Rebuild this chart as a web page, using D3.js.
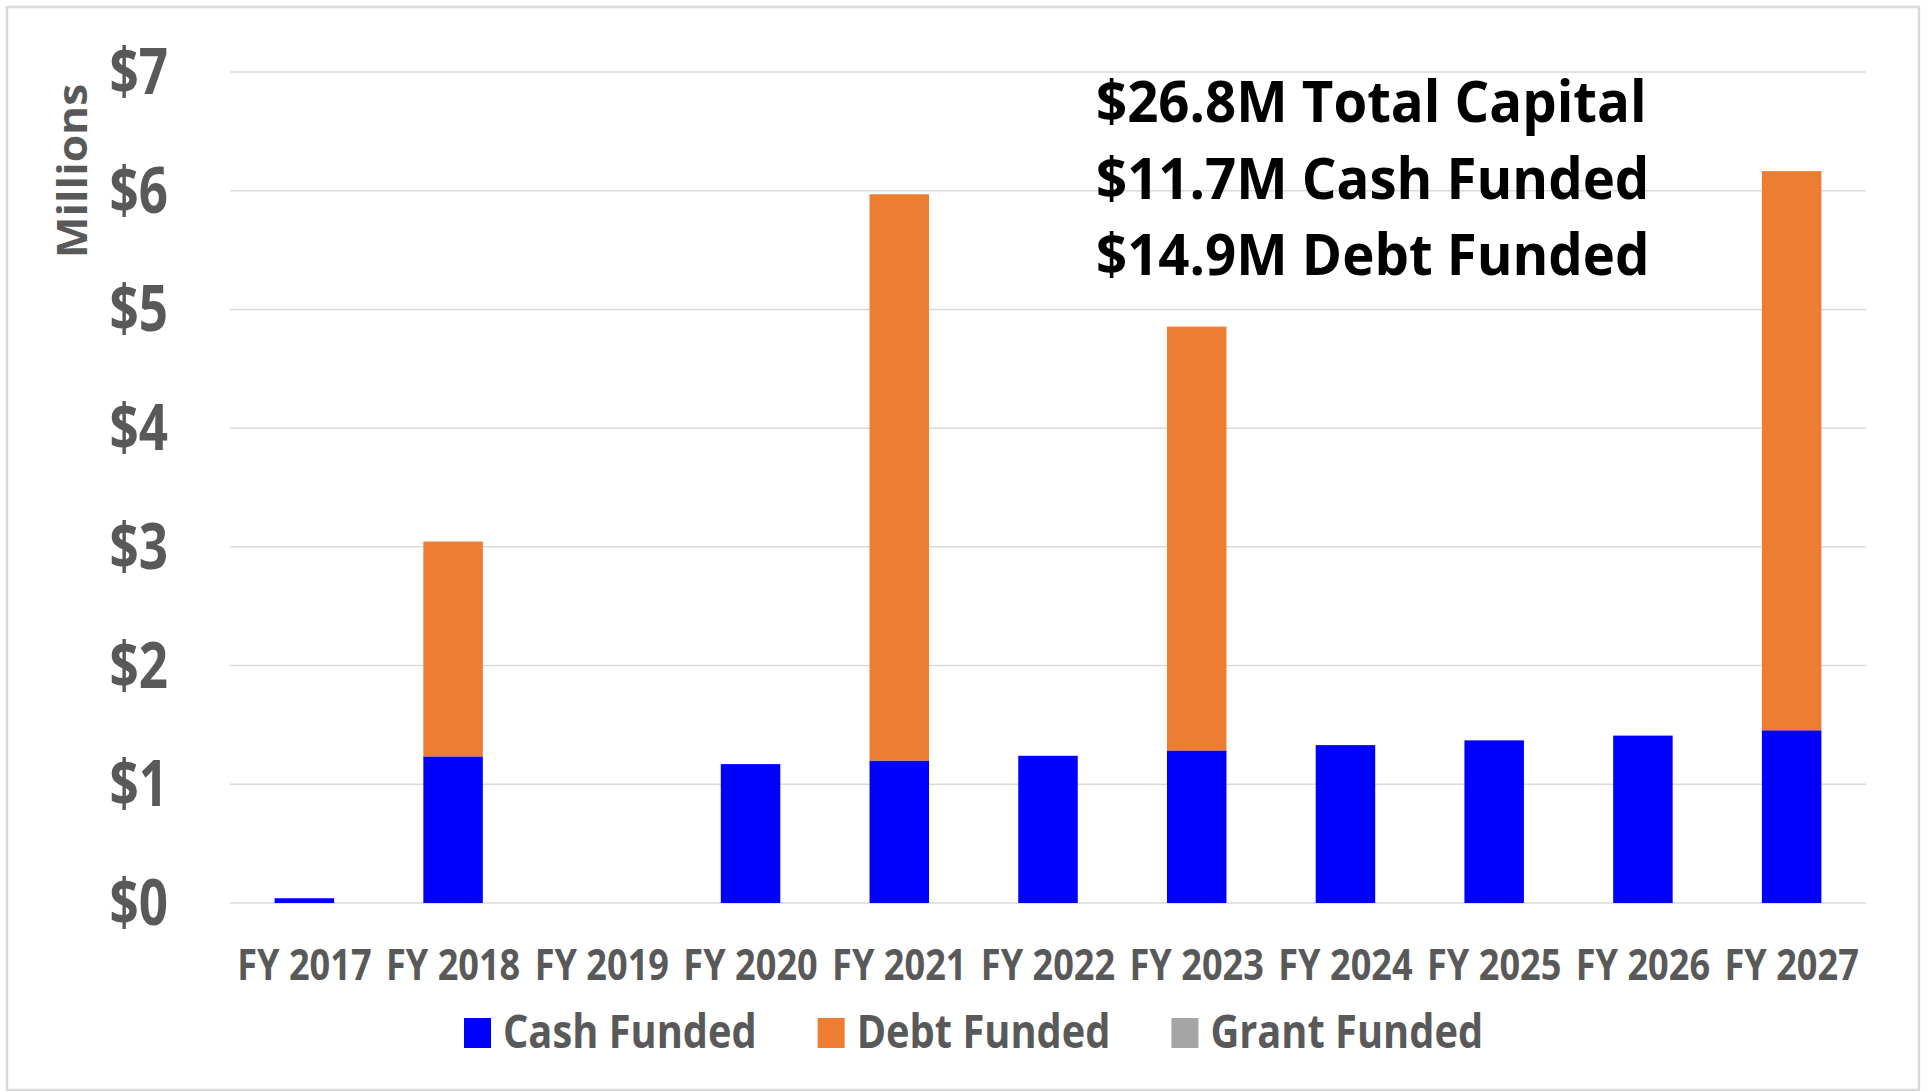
<!DOCTYPE html>
<html>
<head>
<meta charset="utf-8">
<script src="https://cdn.jsdelivr.net/npm/d3@7"></script>
<style>
  html, body { margin: 0; padding: 0; background: #fff; }
  svg { display: block; }
  text { font-family: "Open Sans", "DejaVu Sans", sans-serif; font-weight: bold; }
</style>
</head>
<body>
<svg id="chart"></svg>
<script>
var width = 1927;
var height = 1091;

// data (millions of dollars)
var years = ["FY 2017", "FY 2018", "FY 2019", "FY 2020", "FY 2021", "FY 2022",
             "FY 2023", "FY 2024", "FY 2025", "FY 2026", "FY 2027"];
var cashFunded  = [0.04, 1.235, 0, 1.17, 1.20, 1.24, 1.285, 1.33, 1.37, 1.41, 1.455];
var debtFunded  = [0, 1.81, 0, 0, 4.77, 0, 3.57, 0, 0, 0, 4.71];
var grantFunded = [0, 0, 0, 0, 0, 0, 0, 0, 0, 0, 0];
var seriesNames = ["Cash Funded", "Debt Funded", "Grant Funded"];
var seriesColors = ["#0000ff", "#ed7d31", "#a5a5a5"];
var yTicks = [0, 1, 2, 3, 4, 5, 6, 7];
var notes = ["$26.8M Total Capital", "$11.7M Cash Funded", "$14.9M Debt Funded"];

var margin = { left: 230, right: 61, top: 72, bottom: 188 };
var gray = "#595959";

var svg = d3.select("#chart")
  .attr("width", width)
  .attr("height", height);

// outer frame
svg.append("rect")
  .attr("x", 7).attr("y", 7)
  .attr("width", width - 15).attr("height", height - 8)
  .attr("fill", "#fff")
  .attr("stroke", "#d9d9d9")
  .attr("stroke-width", 2.5);

var x = d3.scaleBand()
  .domain(years)
  .range([margin.left, width - margin.right])
  .paddingInner(0.6)
  .paddingOuter(0.3);

var y = d3.scaleLinear()
  .domain([0, 7])
  .range([height - margin.bottom, margin.top]);

// squeeze text horizontally (the original looks condensed)
function squeeze(sel, factor) {
  sel.each(function () {
    var w = this.getComputedTextLength();
    d3.select(this)
      .attr("textLength", w * factor)
      .attr("lengthAdjust", "spacingAndGlyphs");
  });
}

// gridlines
svg.append("g")
  .selectAll("line")
  .data(yTicks)
  .join("line")
    .attr("x1", x.range()[0])
    .attr("x2", x.range()[1])
    .attr("y1", function (d) { return y(d); })
    .attr("y2", function (d) { return y(d); })
    .attr("stroke", "#d9d9d9")
    .attr("stroke-width", 1.5);

// y axis labels
var yLabels = svg.append("g")
  .selectAll("text")
  .data(yTicks)
  .join("text")
    .attr("x", 168)
    .attr("y", function (d) { return y(d) + 22; })
    .attr("text-anchor", "end")
    .attr("font-size", 64)
    .attr("fill", gray)
    .text(function (d) { return "$" + d; });
squeeze(yLabels, 0.8);

var millions = svg.append("text")
  .attr("transform", "translate(87," + 171 + ") rotate(-90)")
  .attr("text-anchor", "middle")
  .attr("font-size", 41)
  .attr("fill", gray)
  .text("Millions");
squeeze(millions, 1.08);

// stacked bars
var rows = years.map(function (yr, i) {
  return { year: yr, cash: cashFunded[i], debt: debtFunded[i], grant: grantFunded[i] };
});
var stack = d3.stack().keys(["cash", "debt", "grant"]);
var layers = stack(rows);

svg.append("g")
  .selectAll("g")
  .data(layers)
  .join("g")
    .attr("fill", function (d, i) { return seriesColors[i]; })
  .selectAll("rect")
  .data(function (d) { return d; })
  .join("rect")
    .attr("x", function (d) { return x(d.data.year); })
    .attr("width", x.bandwidth())
    .attr("y", function (d) { return y(d[1]); })
    .attr("height", function (d) { return y(d[0]) - y(d[1]); });

// x labels
var xLabels = svg.append("g")
  .selectAll("text")
  .data(years)
  .join("text")
    .attr("x", function (d) { return x(d) + x.bandwidth() / 2; })
    .attr("y", y(0) + 77)
    .attr("text-anchor", "middle")
    .attr("font-size", 43)
    .attr("fill", gray)
    .text(function (d) { return d; });
squeeze(xLabels, 0.84);

// legend
var legend = svg.append("g");
var lx = 464;
seriesNames.forEach(function (name, i) {
  legend.append("rect")
    .attr("x", lx).attr("y", 1018)
    .attr("width", 27).attr("height", 30)
    .attr("fill", seriesColors[i]);
  var t = legend.append("text")
    .attr("x", lx + 39)
    .attr("y", 1048)
    .attr("font-size", 46)
    .attr("fill", gray)
    .text(name);
  squeeze(t, 0.865);
  lx += 39 + (+t.attr("textLength")) + 61;
});

// totals note
var noteText = svg.append("g")
  .selectAll("text")
  .data(notes)
  .join("text")
    .attr("x", 1096)
    .attr("y", function (d, i) { return 122 + i * 76.5; })
    .attr("font-size", 58)
    .attr("fill", "#000")
    .text(function (d) { return d; });
squeeze(noteText, 0.94);
</script>
</body>
</html>
